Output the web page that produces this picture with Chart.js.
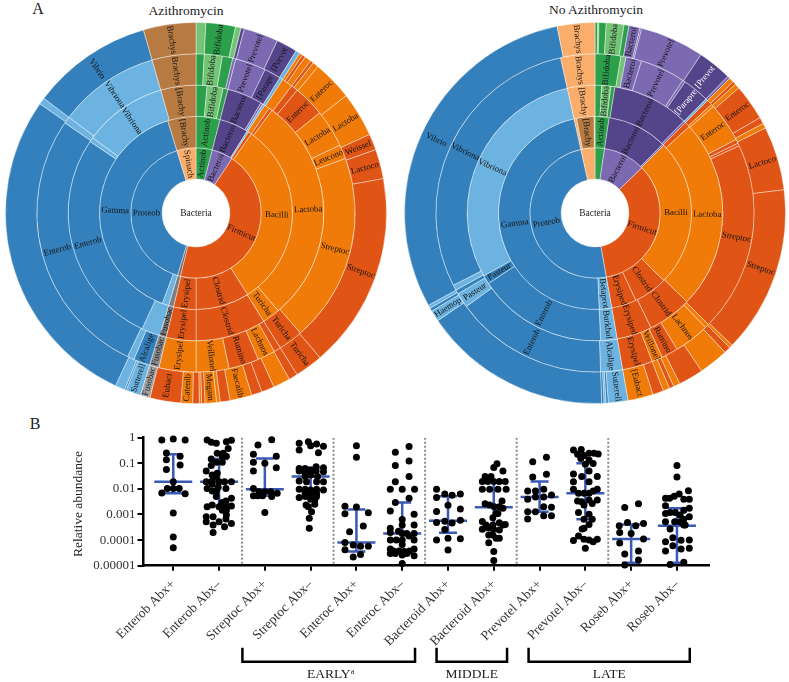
<!DOCTYPE html>
<html>
<head>
<meta charset="utf-8">
<script src="https://cdn.jsdelivr.net/npm/chart.js@4/dist/chart.umd.min.js"></script>
<style>
body { margin: 0; background: #fff; width: 789px; height: 682px; overflow: hidden; position: relative; font-family: "Liberation Serif", serif; color: #222; }
canvas { position: absolute; }
.txt { position: absolute; transform: translate(-50%, -50%); white-space: nowrap; }
</style>
</head>
<body>
<div class="txt" style="left:38px;top:9px;font-size:16px">A</div>
<div class="txt" style="left:35px;top:424px;font-size:16px">B</div>
<div class="txt" style="left:186px;top:11px;font-size:13.5px">Azithromycin</div>
<div class="txt" style="left:596px;top:10px;font-size:13.5px">No Azithromycin</div>
<canvas id="az" width="382" height="382" style="left:5px;top:22px"></canvas>
<canvas id="noAz" width="382" height="382" style="left:404px;top:22px"></canvas>
<canvas id="dots" width="789" height="262" style="left:0;top:420px"></canvas>
<script>
// colours
const G = '#2b9f4a', LG = '#74c476', PL = '#7b69b2', PD = '#54458b', BR = '#b67a42', LO = '#fbae6b';
const B = '#3480bc', LB = '#6cb3e1', R = '#e05415', O = '#f17b09';
const GY1 = '#6f6f6f', GY2 = '#7d7d7d', GY3 = '#8e8e8e', GY4 = '#a2a2a2';

// Azithromycin sunburst, shares of the circle in degrees, clockwise from the top
const azPhylumNames = ['Actinob', 'Bacteroi', 'Firmicut', '', 'Proteob', 'Spinach'];
const azPhylumShares = [14.5, 19, 160.5, 2.5, 146.5, 17];
const azPhylumColors = [G, PL, R, GY1, B, LO];

const azClassNames = ['Actinob', 'Bacteroi', '', '', 'Bacilli', 'Clostrid', 'Erysipel', '', '', 'Gamma', '[Brachy'];
const azClassShares = [14.5, 17.5, 1, 2, 112.7, 32.3, 13.5, 3, 4, 142.5, 17];
const azClassColors = [G, PD, LB, R, O, R, R, GY2, LB, B, BR];

const azOrderNames = ['', 'Bifidoba', '', 'Bacteroi', '', '', '', '', 'Lactoba', 'Turicha', 'Clostrid', 'Erysipel', 'Fusobac', '', 'Enterob', '', 'Vibriona', '[Brachy'];
const azOrderShares = [5, 7.3, 2.2, 16, 1, 1, 2.5, 1.5, 103.5, 8, 32, 13.5, 3, 8.5, 99, 2, 38, 16];
const azOrderColors = [G, LG, G, PD, PL, LB, O, R, O, O, R, R, GY2, LB, B, LB, LB, BR];

const azFamilyNames = ['', 'Bifidoba', '', '', 'Prevotel', '[Parapr', '', '', '', 'Enteroc', 'Lactoba', 'Leucono', 'Streptoc', 'Turicha', '', 'Lachnos', 'Rumino', 'Veillonel', 'Erysipel', 'Fusobac', 'Alcalige', '', 'Enterob', '', 'Vibriona', 'Brachys'];
const azFamilyShares = [3, 6.6, 3.8, 1.1, 11.2, 6.1, 1.2, 4, 2.5, 11.5, 13.8, 5.2, 69, 9, 2.5, 6.5, 11, 12, 13.5, 3.5, 6, 2.5, 99, 2.5, 37, 16];
const azFamilyColors = [G, LG, G, PL, PL, PD, LB, O, R, R, O, O, O, R, R, O, R, O, O, GY3, B, LB, B, LB, LB, BR];

const azGenusNames = ['', 'Bifidoba', '', '', 'Prevotel', '[Prevot', '', '', '', '', '', '', 'Enteroc', 'Lactoba', 'Weissel', 'Lactoco', 'Streptoc', 'Turicha', '', '', '', '', 'Faecalib', '', '', 'Megam', '', '', '', 'Catenib', 'Eubact', 'Fusobac', 'Sutterell', '', '', '', '', 'Vibrio', 'Brachys'];
const azGenusShares = [3, 9, 1.7, 1, 10.6, 6.4, 1.3, 1, 1, 2, 1, 1.8, 12.2, 13.7, 4.9, 9, 59.8, 8.6, 2.7, 5.2, 3.9, 3.2, 6.7, 3, 1.1, 3.5, 1, 0.7, 2, 3.6, 9.4, 3, 4.5, 0.5, 3, 100, 2, 37, 16];
const azGenusColors = [LG, G, LG, PD, PL, PD, LB, O, R, O, R, O, O, O, R, R, R, R, R, O, R, R, O, R, O, O, R, O, R, O, R, GY4, LB, B, LB, B, LB, B, BR];

// No azithromycin sunburst
const noPhylumNames = ['', 'Bacteroi', 'Firmicut', 'Proteob', ''];
const noPhylumShares = [8.5, 37.5, 124, 177.5, 12.5];
const noPhylumColors = [G, PL, R, B, LO];

const noClassNames = ['Actinob', 'Bacteroi', '', 'Bacilli', 'Clostrid', 'Erysiped', 'Betaprot', 'Gamma', '', '[Brachy', ''];
const noClassShares = [8.5, 36, 1, 89, 20.5, 15, 7.5, 170, 1.5, 10.5, 0.5];
const noClassColors = [G, PD, PL, O, R, R, LB, B, LO, BR, LO];

const noOrderNames = ['', 'Bifidoba', '', 'Bacteroi', '', '', 'Lactoba', 'Clostrid', 'Erysiped', 'Burkhol', 'Enterob', 'Pasteur', 'Vibriona', '[Brachy'];
const noOrderShares = [3, 4.2, 1.8, 35, 1, 2.5, 86.5, 20, 16, 7.5, 59, 4, 107, 12.5];
const noOrderColors = [G, LG, G, PD, PL, R, O, R, R, LB, B, B, LB, LO];

const noFamilyNames = ['Bifidoba', '', 'Bacteroi', 'Prevotel', '', '[Parapre', '', '', '', 'Enteroc', '', '', 'Streptoc', '', 'Lachnos', 'Rumino', 'Veillonel', 'Erysipel', 'Alcalige', 'Enterob', 'Pasteur', '', '', 'Vibriona', 'Brachys'];
const noFamilyShares = [9.4, 1.9, 5.7, 16.5, 1, 9.7, 0.8, 2, 1, 14.5, 1.5, 1, 69.5, 1.5, 13, 6, 4, 11, 8, 56, 5.5, 1.5, 2, 104.5, 12.5];
const noFamilyColors = [G, LG, PL, PL, PL, PD, LB, R, O, O, R, R, R, O, O, R, O, R, LB, B, LB, B, LB, B, LO];

const noGenusNames = ['', '', '', 'Bifidoba', '', 'Bacteroi', '', 'Prevotel', '[Prevot', '', '', '', '', 'Enteroc', '', '', 'Lactoco', 'Streptoc', '', '', '', '', '', '', '', '', '[Eubact', 'Sutterell', '', '', '', '', 'Haemop', '', '', 'Vibrio', 'Brachys'];
const noGenusShares = [0.8, 0.4, 2.2, 5.4, 1.5, 3.4, 0.5, 19.6, 10.4, 0.8, 1.5, 1, 1.5, 11, 2, 1.5, 19.5, 51, 1, 2, 9, 7.6, 2, 1.4, 2, 3.3, 7.7, 6, 0.7, 0.6, 0.7, 57.6, 3.4, 1, 1, 107.5, 11.5];
const noGenusColors = [G, LG, G, LG, G, PL, PL, PL, PD, PL, O, R, O, R, R, O, R, R, O, R, O, R, O, R, O, R, O, LB, B, LB, B, B, LB, B, LB, B, LO];
// these two sit on dark purple and are written in white
const noWhiteNames = ['[Parapre', '[Prevot'];

// dot plot
const categories = ['Enterob Abx+', 'Enterob Abx\u2013', 'Streptoc Abx+', 'Streptoc Abx\u2013', 'Enteroc Abx+', 'Enteroc Abx\u2013', 'Bacteroid Abx+', 'Bacteroid Abx+', 'Prevotel Abx+', 'Prevotel Abx\u2013', 'Roseb Abx+', 'Roseb Abx\u2013'];
const yTickValues = [1, 0.1, 0.01, 0.001, 0.0001, 0.00001];
const yTickLabels = ['1', '0.1', '0.01', '0.001', '0.0001', '0.00001'];
// log10 of relative abundance for each group
const logMedian = [-1.72, -1.72, -2.01, -1.52, -4.09, -3.74, -3.24, -2.72, -2.32, -2.17, -3.96, -3.44];
const logQ3 = [-0.65, -0.83, -0.81, -1.17, -2.80, -2.53, -2.29, -1.72, -1.71, -1.00, -3.39, -2.76];
const logQ1 = [-2.17, -2.67, -2.27, -2.30, -4.45, -4.43, -3.71, -3.61, -2.89, -3.19, -4.88, -4.88];
const separators = [1.5, 3.5, 5.5, 7.5, 9.5];
const groupNames = ['EARLY', 'MIDDLE', 'LATE'];
const groupFrom = [1.51, 5.75, 7.76];
const groupTo = [5.28, 7.29, 11.28];

// each point: [side offset from the category, log10 abundance]
const enterobPlus = [[-.25,-.09],[0,-.05],[.26,-.09],[-.15,-.6],[-.15,-.86],[.15,-.72],[.15,-1.07],[-.15,-1.24],[0,-1.72],[-.13,-1.98],[0,-1.98],[.13,-1.98],[-.25,-2.16],[.26,-2.19],[0,-2.94],[0,-3.88],[0,-4.3]];
const enterobMinus = [[-.26,-.09],[-.17,-.18],[-.06,-.22],[.16,-.16],[.27,-.1],[.2,-.42],[.09,-.61],[-.04,-.61],[.16,-.72],[.07,-.74],[-.17,-.83],[-.06,-.96],[.07,-.96],[-.17,-1.09],[-.28,-1.3],[-.04,-1.39],[-.15,-1.46],[-.06,-1.52],[-.28,-1.72],[-.15,-1.69],[0,-1.72],[.12,-1.72],[.27,-1.72],[-.15,-1.82],[-.26,-1.98],[-.02,-1.94],[-.15,-2.08],[-.06,-2.08],[.15,-1.98],[-.06,-2.3],[.27,-2.37],[.15,-2.47],[.07,-2.53],[-.26,-2.7],[-.15,-2.63],[0,-2.7],[.27,-2.67],[.15,-2.67],[.07,-2.83],[.16,-2.83],[-.28,-3.09],[-.13,-3.09],[.16,-3.02],[0,-3.28],[-.28,-3.28],[.15,-3.18],[.27,-3.35],[-.13,-3.41],[.12,-3.48],[-.13,-3.7]];
const streptocPlus = [[.15,-.08],[-.15,-.29],[-.25,-.65],[.25,-.72],[-.25,-.96],[0,-1],[.25,-1.17],[-.25,-1.3],[-.25,-1.98],[-.13,-2.11],[0,-2.11],[.13,-2.11],[-.25,-2.27],[-.05,-2.27],[.27,-2.17],[.15,-2.3],[0,-2.92],[-.15,-2.27]];
const streptocMinus = [[-.05,-.16],[-.25,-.22],[.13,-.25],[.28,-.33],[0,-.31],[-.25,-.48],[.17,-.59],[-.25,-1.2],[-.12,-1.2],[0,-1.26],[.12,-1.13],[.28,-1.17],[-.25,-1.3],[.28,-1.33],[-.12,-1.39],[.12,-1.3],[-.12,-1.52],[0,-1.46],[.15,-1.52],[-.25,-1.69],[-.09,-1.72],[.28,-1.72],[.13,-1.72],[-.25,-2.01],[-.12,-2.01],[0,-2.04],[.13,-2.01],[.28,-2.04],[-.12,-2.17],[0,-2.17],[.13,-2.17],[-.25,-2.34],[-.12,-2.3],[.13,-2.3],[0,-2.4],[.09,-2.43],[-.1,-2.63],[.09,-2.6],[-.05,-2.7],[.02,-2.89],[-.03,-3.15],[-.03,-3.54]];
const enterocPlus = [[0,-.31],[0,-.76],[-.25,-2.68],[0,-2.71],[-.25,-2.97],[.26,-2.93],[.15,-3.45],[-.15,-3.67],[-.25,-4.09],[-.07,-4.19],[.09,-4.24],[.26,-4.24],[-.25,-4.38],[.09,-4.56],[-.07,-4.66]];
const enterocMinus = [[.15,-.34],[-.15,-.57],[.15,-.91],[-.15,-1.09],[.15,-1.52],[-.15,-1.72],[-.26,-2.01],[0,-2.01],[.27,-2.01],[.15,-2.37],[-.15,-2.53],[-.26,-2.86],[.26,-2.99],[0,-3.2],[.26,-3.41],[0,-3.41],[-.26,-3.54],[-.08,-3.65],[.1,-3.74],[-.26,-3.7],[0,-3.74],[.26,-3.74],[.15,-3.84],[-.26,-4],[-.13,-4],[0,-4],[.26,-4],[0,-4.17],[-.26,-4.35],[-.19,-4.43],[-.07,-4.43],[.05,-4.45],[.16,-4.43],[.26,-4.35],[-.26,-4.52],[-.15,-4.52],[0,-4.58],[.1,-4.52],[.26,-4.61],[0,-4.91]];
const bacteroidA = [[-.25,-2.01],[-.07,-2.2],[.09,-2.25],[.27,-2.2],[-.25,-2.34],[0,-2.64],[.27,-2.79],[-.25,-2.88],[-.07,-3.26],[-.25,-3.31],[.09,-3.33],[.27,-3.22],[-.07,-3.59],[-.25,-4],[0,-3.93],[.27,-3.95],[0,-4.39]];
const bacteroidB = [[.07,-1.02],[0,-1.16],[.2,-1.3],[-.19,-1.52],[-.06,-1.52],[-.25,-1.71],[-.13,-1.71],[0,-1.71],[.12,-1.71],[.25,-1.71],[-.25,-2.01],[-.09,-2.01],[.09,-2.01],[.27,-2.01],[-.19,-2.58],[-.09,-2.63],[.18,-2.47],[.01,-2.7],[.12,-2.7],[.2,-2.76],[.09,-2.96],[-.02,-3.13],[.05,-2.96],[-.25,-3.27],[-.17,-3.41],[-.02,-3.41],[.12,-3.32],[.25,-3.39],[-.25,-3.58],[-.11,-3.52],[-.01,-3.57],[.12,-3.61],[.2,-3.41],[-.11,-3.8],[-.02,-3.8],[.12,-3.93],[-.11,-4.1],[.05,-3.93],[0,-4.45],[0,-4.8]];
const prevotelPlus = [[-.15,-.94],[.15,-.76],[-.15,-1.54],[.15,-1.43],[-.26,-2.08],[-.09,-2.08],[.09,-2.01],[-.26,-2.4],[-.09,-2.32],[.09,-2.32],[.26,-2.24],[-.26,-2.89],[-.09,-2.89],[.09,-2.7],[.26,-2.72],[-.26,-3.18],[.09,-3.05],[.26,-3.05]];
const prevotelMinus = [[-.26,-.48],[-.09,-.46],[-.17,-.65],[-.03,-.7],[.08,-.61],[.19,-.61],[.28,-.64],[-.1,-.81],[.08,-.87],[.17,-1.01],[0,-1.04],[.08,-1.3],[-.26,-1.42],[-.08,-1.52],[.26,-1.52],[.08,-1.72],[-.26,-1.72],[-.26,-2.01],[.26,-2.01],[.17,-2.08],[-.15,-2.17],[-.03,-2.17],[.08,-2.17],[-.17,-2.47],[-.08,-2.5],[.08,-2.43],[.26,-2.43],[.15,-2.57],[-.03,-2.63],[-.15,-2.92],[.08,-2.99],[-.03,-3.19],[.15,-3.19],[.08,-3.39],[-.03,-3.54],[-.07,-3.57],[-.15,-3.84],[-.26,-4.02],[-.03,-3.97],[.08,-4],[.17,-4.06],[.26,-3.97],[0,-4.32]];
const rosebPlus = [[-.14,-2.73],[.16,-2.58],[-.26,-3.44],[-.08,-3.31],[.1,-3.44],[.27,-3.35],[-.25,-3.7],[0,-3.74],[.27,-3.96],[-.25,-4.11],[.16,-4.43],[-.14,-4.54],[.16,-4.78],[-.14,-4.97]];
const rosebMinus = [[0,-1.09],[0,-1.54],[.25,-2.07],[.05,-2.2],[-.06,-2.29],[-.25,-2.37],[-.16,-2.37],[.15,-2.4],[.27,-2.4],[-.25,-2.66],[-.25,-2.96],[-.15,-2.92],[-.04,-2.92],[.15,-2.83],[.27,-2.76],[.07,-3.02],[.15,-3.19],[.27,-3.09],[-.25,-3.28],[-.05,-3.28],[.07,-3.28],[.18,-3.41],[-.15,-3.57],[.15,-3.41],[-.09,-3.91],[-.25,-4.06],[.09,-4.01],[.27,-4],[-.09,-4.22],[-.25,-4.43],[.09,-4.35],[.27,-4.32],[-.15,-4.95],[.15,-4.87]];
const groups = [enterobPlus, enterobMinus, streptocPlus, streptocMinus, enterocPlus, enterocMinus, bacteroidA, bacteroidB, prevotelPlus, prevotelMinus, rosebPlus, rosebMinus];

const serif = '"Liberation Serif", serif';

// names written along the radius of each arc
const arcLabels = {
    id: 'arcLabels',
    afterDatasetsDraw(chart) {
        const ctx = chart.ctx;
        const white = chart.options.plugins.arcLabels.white;
        ctx.save();
        ctx.textAlign = 'center';
        ctx.textBaseline = 'middle';
        ctx.font = '8.8px ' + serif;
        chart.data.datasets.forEach((ds, i) => {
            chart.getDatasetMeta(i).data.forEach((arc, j) => {
                const name = ds.names[j];
                if (!name) return;
                const a = (arc.startAngle + arc.endAngle) / 2;
                const r = (arc.innerRadius + arc.outerRadius) / 2;
                ctx.save();
                ctx.fillStyle = white.includes(name) ? '#fff' : '#151515';
                ctx.translate(arc.x + r * Math.cos(a), arc.y + r * Math.sin(a));
                ctx.rotate(Math.cos(a) >= 0 ? a : a + Math.PI);
                ctx.fillText(name, 0, 0);
                ctx.restore();
            });
        });
        ctx.font = '9.5px ' + serif;
        ctx.fillStyle = '#222';
        ctx.fillText('Bacteria', chart.width / 2, chart.height / 2);
        ctx.restore();
    }
};

function ring(names, shares, colors) {
    return { names: names, data: shares, backgroundColor: colors, borderColor: 'rgba(255,255,255,0.4)', borderWidth: 1 };
}

function sunburst(id, rings, white) {
    new Chart(document.getElementById(id), {
        type: 'doughnut',
        data: { datasets: rings },
        options: {
            responsive: false,
            animation: false,
            cutout: '17.8%',
            layout: { padding: 0 },
            plugins: { legend: { display: false }, tooltip: { enabled: false }, arcLabels: { white: white } }
        },
        plugins: [arcLabels]
    });
}

sunburst('az', [
    ring(azGenusNames, azGenusShares, azGenusColors),
    ring(azFamilyNames, azFamilyShares, azFamilyColors),
    ring(azOrderNames, azOrderShares, azOrderColors),
    ring(azClassNames, azClassShares, azClassColors),
    ring(azPhylumNames, azPhylumShares, azPhylumColors)
], []);
sunburst('noAz', [
    ring(noGenusNames, noGenusShares, noGenusColors),
    ring(noFamilyNames, noFamilyShares, noFamilyColors),
    ring(noOrderNames, noOrderShares, noOrderColors),
    ring(noClassNames, noClassShares, noClassColors),
    ring(noPhylumNames, noPhylumShares, noPhylumColors)
], noWhiteNames);

// median and quartile bars go under the dots
const whiskers = {
    id: 'whiskers',
    beforeDatasetsDraw(chart) {
        const ctx = chart.ctx, x = chart.scales.x, y = chart.scales.y;
        ctx.save();
        ctx.strokeStyle = '#3a5ab4';
        ctx.lineWidth = 2.5;
        categories.forEach((c, i) => {
            const px = x.getPixelForValue(i);
            const med = y.getPixelForValue(10 ** logMedian[i]);
            const q1 = y.getPixelForValue(10 ** logQ1[i]);
            const q3 = y.getPixelForValue(10 ** logQ3[i]);
            ctx.beginPath();
            ctx.moveTo(px - 19, med); ctx.lineTo(px + 19, med);
            ctx.moveTo(px - 9, q1); ctx.lineTo(px + 9, q1);
            ctx.moveTo(px - 9, q3); ctx.lineTo(px + 9, q3);
            ctx.moveTo(px, q1); ctx.lineTo(px, q3);
            ctx.stroke();
        });
        ctx.restore();
    },
    afterDraw(chart) {
        const ctx = chart.ctx, x = chart.scales.x, bottom = chart.chartArea.bottom;
        ctx.save();
        ctx.fillStyle = '#222';
        ctx.textBaseline = 'middle';
        ctx.textAlign = 'center';
        // y axis name
        ctx.save();
        ctx.translate(78, 84);
        ctx.rotate(-Math.PI / 2);
        ctx.font = '13.5px ' + serif;
        ctx.fillText('Relative abundance', 0, 0);
        ctx.restore();
        // brackets under the axis
        ctx.strokeStyle = '#000';
        ctx.lineWidth = 2.5;
        ctx.font = '13.5px ' + serif;
        groupNames.forEach((name, i) => {
            const a = x.getPixelForValue(groupFrom[i]), b = x.getPixelForValue(groupTo[i]);
            ctx.beginPath();
            ctx.moveTo(a, bottom + 82);
            ctx.lineTo(a, bottom + 96);
            ctx.lineTo(b, bottom + 96);
            ctx.lineTo(b, bottom + 82);
            ctx.stroke();
            ctx.fillText(name, (a + b) / 2, bottom + 109);
            if (name === 'EARLY') {
                const w = ctx.measureText(name).width;
                ctx.font = '8px ' + serif;
                ctx.fillText('a', (a + b) / 2 + w / 2 + 2, bottom + 106);
                ctx.font = '13.5px ' + serif;
            }
        });
        ctx.restore();
    }
};

const dotPoints = [];
groups.forEach((g, i) => g.forEach(p => dotPoints.push({ x: i + p[0], y: 10 ** p[1] })));

const separatorSets = separators.map(s => ({
    data: [{ x: s, y: 1 }, { x: s, y: 0.00001 }],
    showLine: true,
    pointRadius: 0,
    borderColor: '#8a8a8a',
    borderWidth: 2,
    borderDash: [2, 2]
}));

new Chart(document.getElementById('dots'), {
    type: 'scatter',
    data: {
        datasets: separatorSets.concat([{
            data: dotPoints,
            pointRadius: 3.5,
            pointBackgroundColor: '#000',
            pointBorderWidth: 0,
            clip: false
        }])
    },
    options: {
        responsive: false,
        animation: false,
        layout: { padding: { top: 17.7, right: 80 } },
        plugins: { legend: { display: false }, tooltip: { enabled: false } },
        scales: {
            x: {
                type: 'linear',
                min: -0.65,
                max: 11.7,
                afterBuildTicks: s => { s.ticks = categories.map((c, i) => ({ value: i })); },
                afterFit: s => { s.height = 116.3; },
                border: { color: '#000', width: 2.5 },
                grid: { drawOnChartArea: false, color: '#000', lineWidth: 2, tickLength: 5 },
                ticks: {
                    autoSkip: false,
                    minRotation: 45,
                    maxRotation: 45,
                    padding: 6,
                    color: '#333',
                    font: { family: serif, size: 13.5 },
                    callback: v => categories[v]
                }
            },
            y: {
                type: 'logarithmic',
                min: 0.00001,
                max: 1,
                afterBuildTicks: s => { s.ticks = yTickValues.map(v => ({ value: v })); },
                afterFit: s => { s.width = 143.5; },
                border: { color: '#000', width: 2.5 },
                grid: { drawOnChartArea: false, color: '#000', lineWidth: 2, tickLength: 6 },
                ticks: {
                    autoSkip: false,
                    padding: 2,
                    color: '#333',
                    font: { family: serif, size: 13 },
                    callback: v => yTickLabels[yTickValues.indexOf(v)]
                }
            }
        }
    },
    plugins: [whiskers]
});
</script>
</body>
</html>
